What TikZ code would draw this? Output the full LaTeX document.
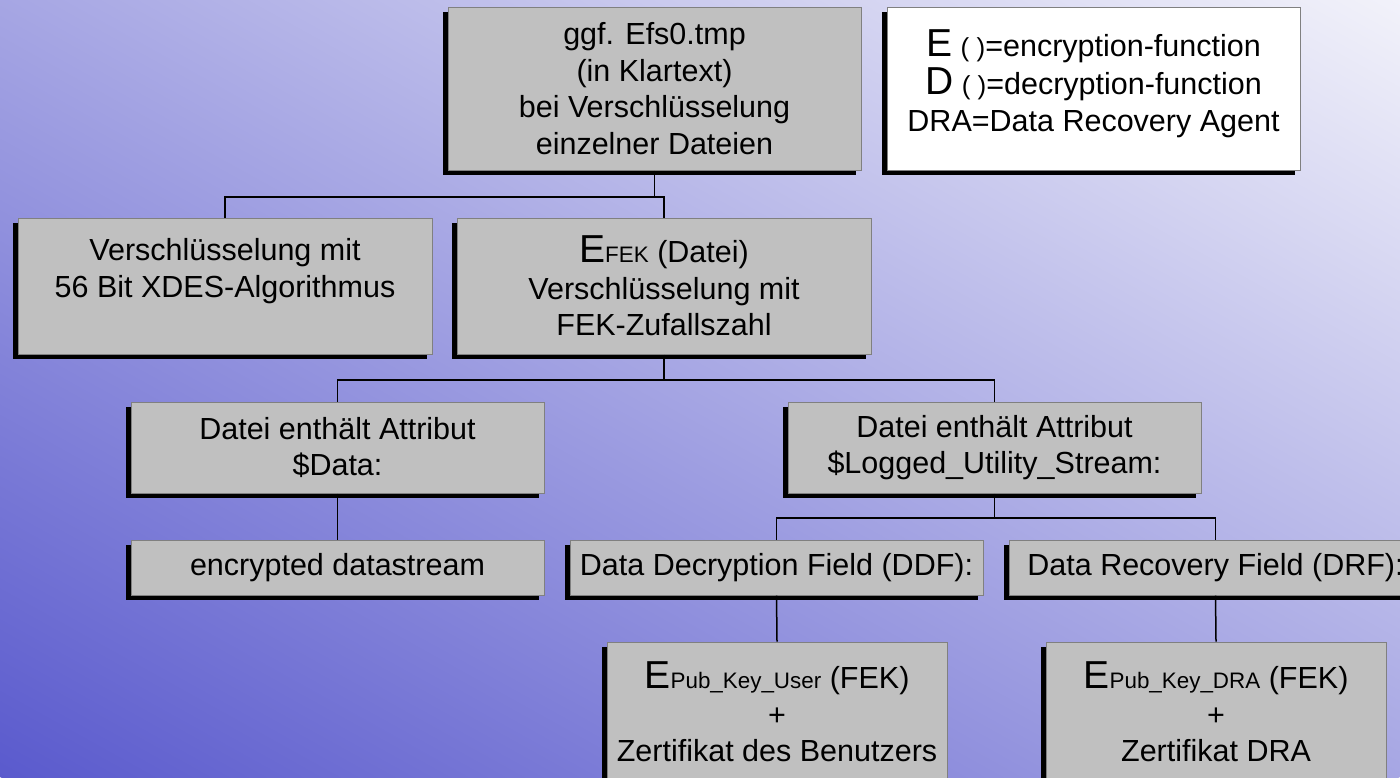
\documentclass[tikz,border=0pt]{standalone}
\usepackage{fontspec}
\setmainfont{Liberation Sans}
\usepackage{tikz}
\usetikzlibrary{positioning, shadows}
\definecolor{BoxGray}{RGB}{192,192,192}
\definecolor{BoxEdge}{RGB}{128,128,128}
\definecolor{BackDark}{RGB}{90,90,205}
\definecolor{BackMid}{RGB}{184,184,232}
\definecolor{BackLight}{RGB}{242,242,250}
\newcommand{\fnsym}[1]{{\fontsize{19.5}{20}\selectfont #1}}
\newcommand{\fnsub}[1]{{\fontsize{11.2}{12}\selectfont #1}}
\newcommand{\fnarg}{{\fontsize{13}{14}\selectfont ( )}}

\begin{document}
\begin{tikzpicture}[x=0.5pt, y=-0.5pt]
  \tikzstyle{box} = [rectangle, draw=BoxEdge, line width=0.5pt, fill=BoxGray, align=center,
    inner sep=0pt, font=\fontsize{15.25}{18.3}\selectfont,
    drop shadow={shadow xshift=-2.5pt, shadow yshift=-2.5pt, opacity=1, fill=black}]
  \tikzstyle{wire} = [draw=black, line width=0.75pt]

  \useasboundingbox (0,0) rectangle (1400,777);
  \clip (0,0) rectangle (1400,777);
  % diagonal background, dark in the lower left corner
  \begin{scope}[transform canvas={cm={7,3.885,7,-3.885,(-350pt,-194.25pt)}}]
    \shade[left color=BackDark, middle color=BackMid, right color=BackLight] (0pt,0pt) rectangle (100pt,100pt);
  \end{scope}

  % top row
  \node[box, minimum width=206.5pt, minimum height=81.5pt] (root) at (654.5,88.5)
    {ggf. Efs0.tmp\\(in Klartext)\\bei Verschlüsselung\\einzelner Dateien};
  \node[box, fill=white, minimum width=206.5pt, minimum height=81.5pt] (legend) at (1093.5,88.5)
    {\fnsym{E} \fnarg=encryption-function\\[1pt]\fnsym{D} \fnarg=decryption-function\\DRA=Data Recovery Agent\\[-10pt]\mbox{}};

  % second row
  \node[box, minimum width=207pt, minimum height=68pt] (xdes) at (225,286)
    {Verschlüsselung mit\\56 Bit XDES-Algorithmus\\\mbox{}};
  \node[box, minimum width=207pt, minimum height=68pt] (efek) at (664,286)
    {\fnsym{E}\fnsub{FEK} (Datei)\\Verschlüsselung mit\\FEK-Zufallszahl};

  % attributes
  \node[box, minimum width=206.5pt, minimum height=45.5pt] (data) at (337.5,447.5)
    {Datei enthält Attribut\\\$Data:};
  \node[box, minimum width=206.5pt, minimum height=45.5pt] (logged) at (994.5,447.5)
    {Datei enthält Attribut\\\$Logged\_Utility\_Stream:};

  \node[box, minimum width=206.5pt, minimum height=27.5pt] (enc) at (337.5,567.5) {encrypted datastream};
  \node[box, minimum width=206.5pt, minimum height=27.5pt] (ddf) at (776.5,567.5) {Data Decryption Field (DDF):};
  \node[box, minimum width=206.5pt, minimum height=27.5pt] (drf) at (1215.5,567.5) {Data Recovery Field (DRF):};

  % keys
  \node[box, minimum width=170pt, minimum height=70pt] (user) at (777,712)
    {\fnsym{E}\fnsub{Pub\_Key\_User} (FEK)\\+\\Zertifikat des Benutzers};
  \node[box, minimum width=170pt, minimum height=70pt] (dra) at (1216,712)
    {\fnsym{E}\fnsub{Pub\_Key\_DRA} (FEK)\\+\\Zertifikat DRA};

  % connectors
  \coordinate (bus1) at (0,197);
  \coordinate (bus2) at (0,380);
  \coordinate (bus3) at (0,518);
  \draw[wire] (root.south) -- (root.south |- bus1);
  \draw[wire] (xdes.north) |- (efek.north |- bus1) -- (efek.north);
  \draw[wire] (efek.south) -- (efek.south |- bus2);
  \draw[wire] (data.north) |- (logged.north |- bus2) -- (logged.north);
  \draw[wire] (data.south) -- (enc.north);
  \draw[wire] (logged.south) -- (logged.south |- bus3);
  \draw[wire] (ddf.north) |- (drf.north |- bus3) -- (drf.north);
  \draw[wire] (ddf.south) -- (user.north);
  \draw[wire] (drf.south) -- (dra.north);
\end{tikzpicture}
\end{document}
